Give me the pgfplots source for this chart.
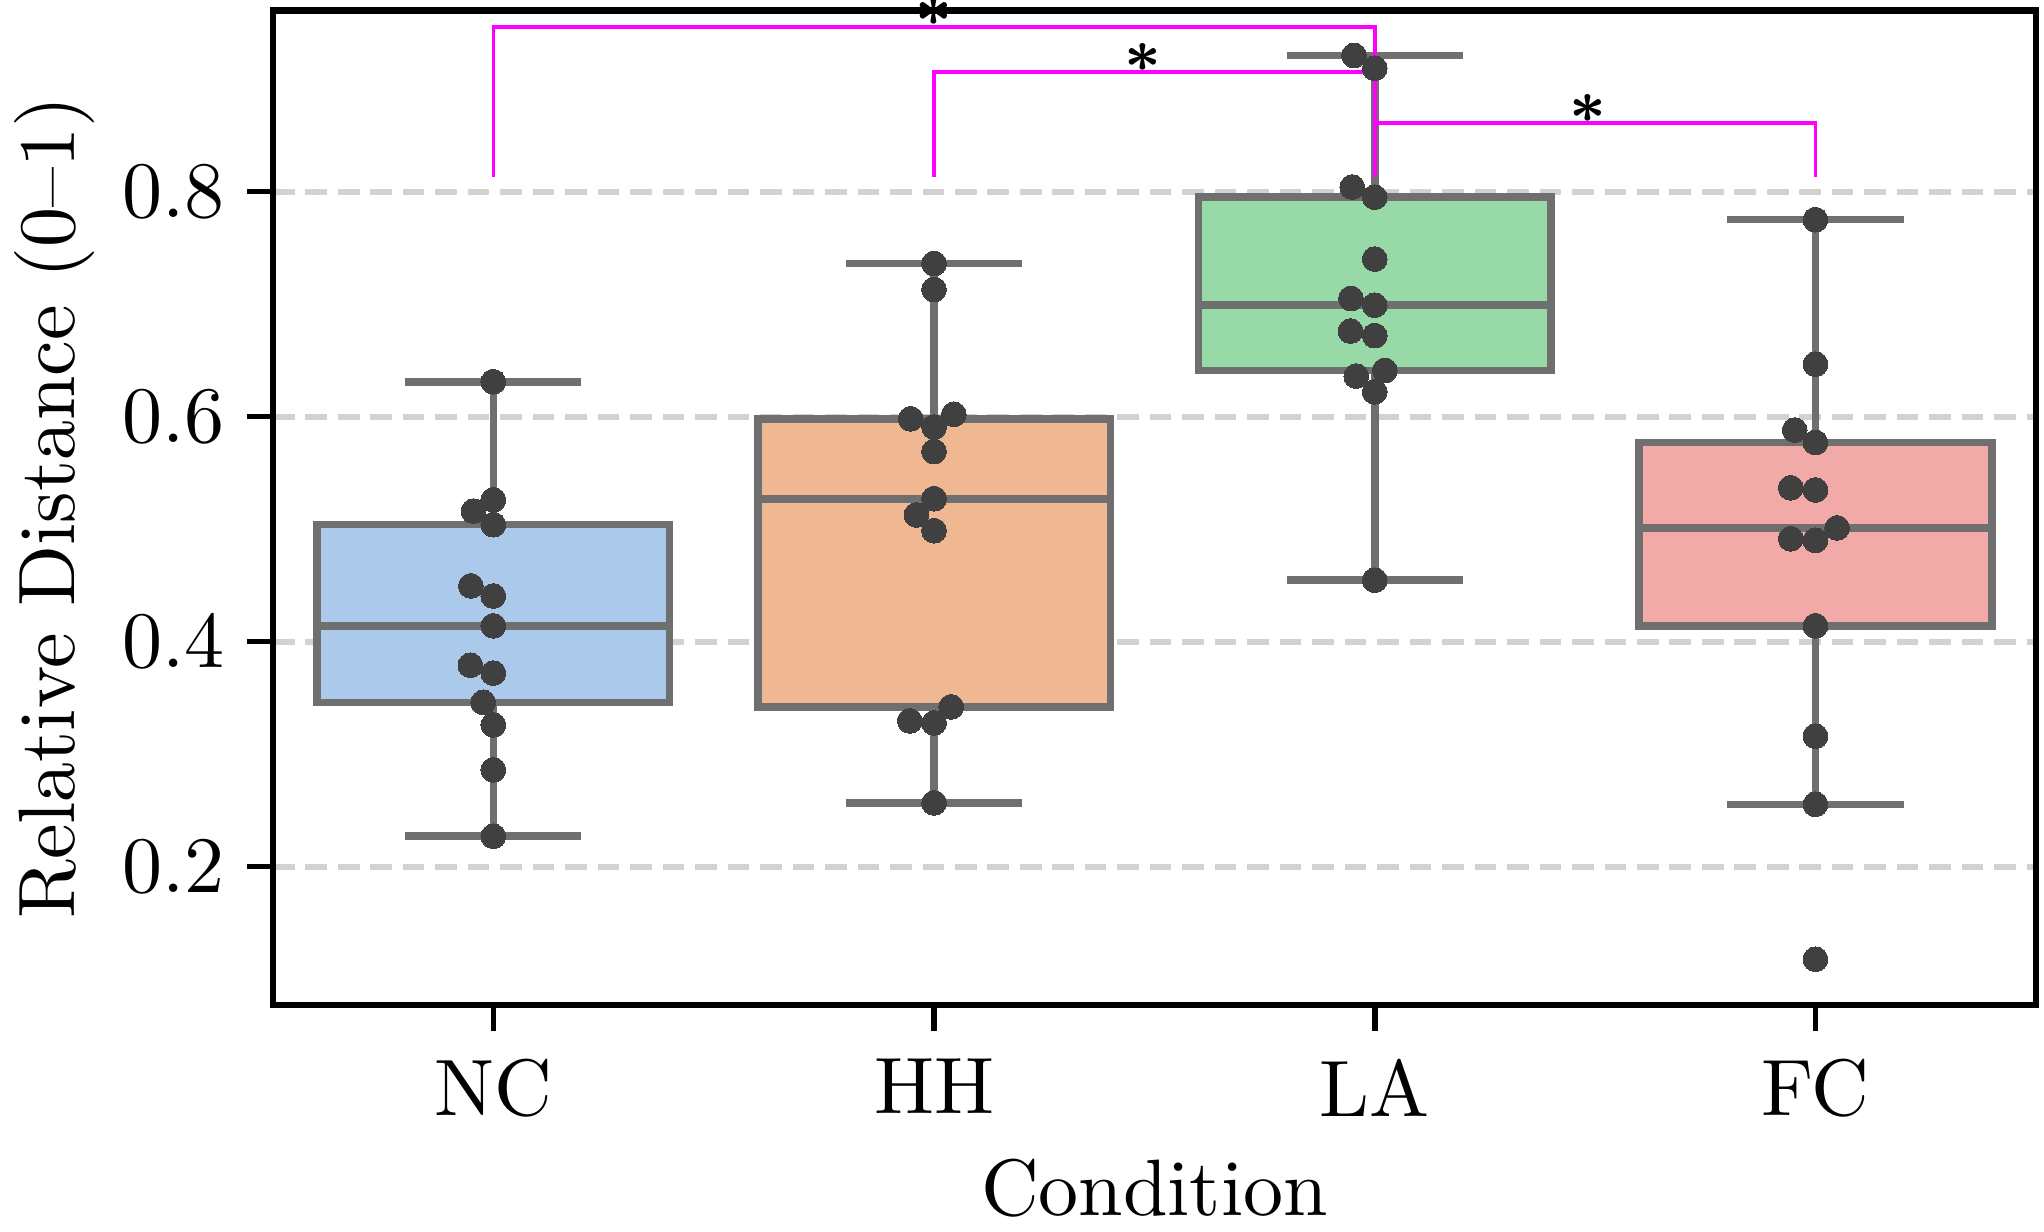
\documentclass[border=0pt]{standalone}
\usepackage{pgfplots}
\pgfplotsset{compat=1.18}
\usepgfplotslibrary{statistics}
\definecolor{boxgray}{RGB}{111,111,111}
\definecolor{dotcol}{RGB}{64,64,64}
\definecolor{gridgray}{RGB}{210,210,210}
\definecolor{ncfill}{RGB}{171,201,234}
\definecolor{hhfill}{RGB}{239,183,146}
\definecolor{lafill}{RGB}{152,218,167}
\definecolor{fcfill}{RGB}{242,170,168}
\definecolor{magbr}{RGB}{255,0,255}
\begin{document}
\begin{tikzpicture}
\useasboundingbox (-34.125pt,-28.375pt) rectangle (221.4pt,125.6pt);
\begin{axis}[
  scale only axis,
  width=220.375pt, height=124.3pt,
  xmin=-0.5, xmax=3.5, ymin=0.0773, ymax=0.961,
  xtick={0,1,2,3}, xticklabels={NC,HH,LA,FC},
  ytick={0.2,0.4,0.6,0.8},
  yticklabel style={/pgf/number format/fixed,/pgf/number format/fixed zerofill,/pgf/number format/precision=1, xshift=0.8pt},
  tick align=outside, major tick length=3.3pt,
  xtick pos=left, ytick pos=left,
  every tick/.style={black, line width=0.7pt},
  axis line style={black, line width=0.8pt},
  ymajorgrids,
  grid style={gridgray, line width=0.75pt, dash pattern=on 2.7pt off 1.36pt},
  clip=false,
  xlabel={Condition},
  ylabel={Relative Distance (0--1)},
  xlabel style={at={(axis description cs:0.5,-0.2124)}, anchor=base},
  ylabel style={at={(axis description cs:-0.1239,0.5)}, anchor=center},
  boxplot/draw direction=y,
  boxplot/box extend=0.8,
  boxplot/whisker extend=0.4,
]
\addplot[boxplot prepared={draw position=0, lower whisker=0.227, lower quartile=0.346, median=0.414, upper quartile=0.504, upper whisker=0.631}, draw=boxgray, fill=ncfill, line width=0.95pt, solid] coordinates {};
\addplot[boxplot prepared={draw position=1, lower whisker=0.2566, lower quartile=0.342, median=0.527, upper quartile=0.598, upper whisker=0.736}, draw=boxgray, fill=hhfill, line width=0.95pt, solid] coordinates {};
\addplot[boxplot prepared={draw position=2, lower whisker=0.4546, lower quartile=0.641, median=0.699, upper quartile=0.795, upper whisker=0.921}, draw=boxgray, fill=lafill, line width=0.95pt, solid] coordinates {};
\addplot[boxplot prepared={draw position=3, lower whisker=0.2554, lower quartile=0.414, median=0.501, upper quartile=0.577, upper whisker=0.775}, draw=boxgray, fill=fcfill, line width=0.95pt, solid] coordinates {};
% swarm points
\addplot[only marks, mark=*, mark size=1.55pt, mark options={fill=dotcol, draw=dotcol, line width=0pt}] coordinates {
(0,0.631) (0,0.526) (-0.045,0.516) (0,0.504) (-0.051,0.4495) (0,0.4405) (0,0.414) (-0.052,0.379) (0,0.372) (-0.023,0.346) (0,0.326) (0,0.286) (0,0.227)
};
\addplot[only marks, mark=*, mark size=1.55pt, mark options={fill=dotcol, draw=dotcol, line width=0pt}] coordinates {
(1,0.736) (1,0.713) (0.947,0.598) (1.045,0.602) (1,0.5907) (1,0.569) (1,0.527) (0.960,0.5126) (1,0.4986) (1.039,0.342) (0.945,0.3295) (1,0.3277) (1,0.2566)
};
\addplot[only marks, mark=*, mark size=1.55pt, mark options={fill=dotcol, draw=dotcol, line width=0pt}] coordinates {
(1.953,0.921) (2,0.9096) (1.949,0.804) (2,0.795) (2,0.740) (1.946,0.705) (2,0.699) (1.945,0.676) (2,0.672) (2.023,0.641) (1.958,0.636) (2,0.622) (2,0.4546)
};
\addplot[only marks, mark=*, mark size=1.55pt, mark options={fill=dotcol, draw=dotcol, line width=0pt}] coordinates {
(3,0.775) (3,0.6466) (2.953,0.588) (3,0.577) (2.944,0.5367) (3,0.5348) (3.049,0.501) (2.944,0.4914) (3,0.490) (3,0.414) (3,0.316) (3,0.2554) (3,0.1177)
};
% significance brackets
\addplot[magbr, line width=0.45pt] coordinates {(0,0.813) (0,0.9465) (2,0.9465) (2,0.813)};
\addplot[magbr, line width=0.45pt] coordinates {(1,0.813) (1,0.906) (2,0.906) (2,0.813)};
\addplot[magbr, line width=0.45pt] coordinates {(2,0.813) (2,0.8607) (3,0.8607) (3,0.813)};
\node[anchor=base, inner sep=0pt, font=\fontsize{7.5}{8}\selectfont\bfseries, yshift=-2pt] at (axis cs:1,0.9465) {*};
\node[anchor=base, inner sep=0pt, font=\fontsize{7.5}{8}\selectfont\bfseries, yshift=-2pt] at (axis cs:1.475,0.906) {*};
\node[anchor=base, inner sep=0pt, font=\fontsize{7.5}{8}\selectfont\bfseries, yshift=-2pt] at (axis cs:2.483,0.8607) {*};
\end{axis}
\end{tikzpicture}
\end{document}
